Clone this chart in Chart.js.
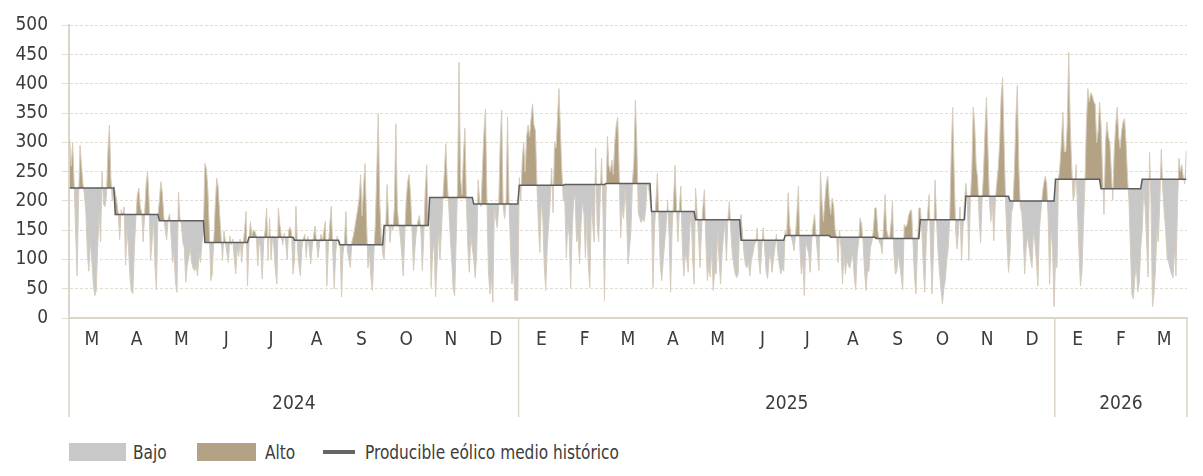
<!DOCTYPE html>
<html>
<head>
<meta charset="utf-8">
<script src="https://cdn.jsdelivr.net/npm/chart.js@4.4.1/dist/chart.umd.min.js"></script>
<style>
  body { margin: 0; background: #fff; }
  .page { position: relative; width: 1203px; height: 476px; }
  .chart-wrapper { position: absolute; left: 0; top: 0; width: 1203px; height: 420px; }
  .legend { position: absolute; left: 0; top: 441px; height: 24px; width: 800px;
            font-family: 'DejaVu Sans Condensed', 'Liberation Sans Narrow', sans-serif;
            font-size: 19px; color: #3c3c3c; }
  .legend span { position: absolute; top: 0; line-height: 22px; }
  .legend .txt { transform: scaleX(0.9); transform-origin: left center; white-space: nowrap; }
  .legend .box { height: 18px; top: 2px; }
  .legend .line { height: 4px; top: 9px; background: #666; }
</style>
</head>
<body>
<div class="page">
  <div class="chart-wrapper"><canvas id="myChart"></canvas></div>
  <div class="legend">
    <span class="box" style="left:69px;width:57px;background:#c8c8c9"></span>
    <span class="txt" style="left:133px">Bajo</span>
    <span class="box" style="left:197px;width:59px;background:#b3a384"></span>
    <span class="txt" style="left:265px">Alto</span>
    <span class="line" style="left:323px;width:32px"></span>
    <span class="txt" style="left:365px">Producible eólico medio histórico</span>
  </div>
</div>
<script>
// meses (mar 2024 - mar 2026)
const monthLetters = ['M','A','M','J','J','A','S','O','N','D',
                      'E','F','M','A','M','J','J','A','S','O','N','D',
                      'E','F','M'];
const monthDays = [31,30,31,30,31,31,30,31,30,31,
                   31,28,31,30,31,30,31,31,30,31,30,31,
                   31,28,31];
const yearLabels = ['2024', '2025', '2026'];

// producible eolico medio historico (mensual)
const histMean = [222,177,166,129,138,133,125,158,206,195,
                  227,228,230,182,168,133,141,138,136,168,208,200,
                  237,221,237];

// producible eolico diario
const prod2024 = [
  305,260,300,230,150,72,200,295,260,230,210,180,110,80,130,100,60,38,45,120,180,130,250,195,190,210,285,330,240,200,225, // mar
  215,200,180,134,185,175,190,90,150,120,70,45,42,120,170,210,222,190,180,130,180,230,250,200,98,130,170,90,48,175, // abr
  200,233,215,175,150,134,170,178,140,95,110,60,44,215,170,160,130,120,61,90,103,120,95,85,80,90,72,110,95,130,150, // may
  264,256,220,150,64,75,130,190,239,225,180,140,98,149,130,110,95,140,125,135,100,75,120,105,135,95,125,150,182,55, // jun
  130,165,140,150,148,140,89,130,120,67,130,150,188,98,171,100,140,120,80,58,188,160,140,125,145,130,100,150,155,145,75, // jul
  100,191,120,90,72,120,135,143,103,140,120,92,120,140,157,130,103,125,143,130,150,165,55,120,160,191,120,50,110,140,125, // ago
  125,36,110,130,182,115,100,86,130,140,154,170,185,205,245,175,225,264,170,86,110,70,47,110,160,250,349,200,140,110, // sep
  100,150,228,170,129,160,150,190,332,185,160,140,110,72,140,200,233,245,210,150,81,120,150,165,175,150,81,140,220,262,160, // oct
  180,52,110,131,36,90,150,100,150,205,250,298,230,190,140,100,50,38,130,230,437,240,210,280,324,200,120,78,140,120, // nov
  100,69,110,236,200,190,260,320,357,200,80,41,70,27,190,170,154,190,300,355,190,170,200,343,200,120,58,90,30,30,30 // dic
];
const prod2025 = [
  240,200,270,300,250,310,330,310,340,366,330,320,230,160,112,200,170,90,47,120,160,200,256,180,301,290,340,392,320,250,200, // ene
  200,103,160,140,52,150,200,210,130,140,92,160,200,180,103,170,90,52,190,160,130,290,160,130,200,273,180,30, // feb
  200,310,260,250,270,245,300,330,343,250,137,190,170,220,180,92,120,150,230,267,372,300,180,170,163,170,165,185,230,225,200, // mar
  182,52,150,200,247,170,90,64,100,130,160,202,140,44,150,200,261,190,130,190,225,120,72,110,100,78,150,182,100,58, // abr
  222,180,140,86,150,190,219,130,64,90,70,120,47,80,75,150,100,58,110,140,160,98,170,199,150,110,90,75,69,75,160, // may
  177,140,110,90,86,95,72,100,110,125,130,154,100,75,120,154,120,80,67,100,110,78,100,120,143,110,90,75,85,80, // jun
  150,140,214,160,140,130,115,140,180,225,120,75,100,38,130,120,110,78,130,160,177,140,110,81,250,200,165,200,230,242,200, // jul
  177,205,191,150,137,95,150,120,58,110,75,100,90,85,100,110,70,48,110,130,171,160,130,80,47,80,80,120,130,150,188, // ago
  188,150,130,125,110,160,211,150,140,135,160,199,110,75,80,110,90,70,48,160,155,160,175,182,185,130,70,41,120,188, // sep
  188,150,90,44,130,180,211,110,41,120,236,170,115,80,50,24,50,65,100,120,170,280,360,250,150,118,150,190,98,150,200, // oct
  230,200,98,200,250,360,330,260,240,170,129,200,250,320,377,290,200,165,200,132,200,230,256,300,380,411,300,200,130,78, // nov
  110,180,190,250,340,397,260,190,180,143,75,120,140,120,100,86,150,130,98,55,150,180,210,230,242,230,170,58,150,120,19 // dic
];
const prod2026 = [
  100,86,236,260,300,352,284,284,330,454,330,260,200,211,262,180,110,55,80,160,230,330,392,369,385,380,370,365,300,320,369, // ene
  329,250,177,300,335,310,300,250,202,290,330,360,310,290,320,335,341,300,240,200,120,40,33,70,90,45,60,120, // feb
  150,220,190,130,70,283,200,19,40,80,150,130,200,288,220,180,150,103,95,85,75,69,120,72,190,273,250,262,240,229,285 // mar
];

const daily = prod2024.concat(prod2025, prod2026);

// posiciones de meses y anos sobre el eje de dias
const monthStart = [];
let acc = 0;
monthDays.forEach(n => { monthStart.push(acc); acc += n; });
const totalDays = acc;
const monthCenters = monthStart.map((s, i) => s + monthDays[i] / 2);
const yearBounds = [0, 306, 671, totalDays];
const yearCenters = [153, 306 + 182.5, 671 + 45];

const dailyPoints = daily.map((v, i) => ({x: i + 0.5, y: v}));
const meanPoints = [];
monthDays.forEach((n, m) => {
    for (let k = 0; k < n; k++) meanPoints.push({x: monthStart[m] + k + 0.5, y: histMean[m]});
});

const tickFont = {family: "'DejaVu Sans Condensed', 'Liberation Sans Narrow', sans-serif", size: 19};
const axisColor = '#dcd5c9';

const yearDividers = {
    id: 'yearDividers',
    afterDraw(chart) {
        const {ctx, chartArea, scales} = chart;
        ctx.save();
        ctx.strokeStyle = axisColor;
        ctx.lineWidth = 1.5;
        yearBounds.forEach(v => {
            const px = scales.x.getPixelForValue(v);
            ctx.beginPath();
            ctx.moveTo(px, chartArea.bottom);
            ctx.lineTo(px, 417);
            ctx.stroke();
        });
        ctx.restore();
    }
};

const data = {
    datasets: [{
        label: 'Producible diario',
        data: dailyPoints,
        borderColor: '#d6ccbc',
        borderWidth: 1,
        pointRadius: 0,
        tension: 0,
        order: 1,
        fill: {target: 1, above: '#b3a384', below: '#c8c8c9'}
    }, {
        label: 'Producible eólico medio histórico',
        data: meanPoints,
        borderColor: '#5e5e5e',
        borderWidth: 1.5,
        pointRadius: 0,
        tension: 0,
        order: 0,
        fill: false
    }]
};

const config = {
    type: 'line',
    data: data,
    options: {
        responsive: true,
        maintainAspectRatio: false,
        animation: false,
        layout: {padding: {top: 21, right: 16, bottom: 2, left: 0}},
        plugins: {legend: {display: false}, tooltip: {enabled: false}},
        scales: {
            x: {
                type: 'linear', min: 0, max: totalDays, position: 'bottom',
                afterBuildTicks: (scale) => { scale.ticks = monthCenters.map(v => ({value: v})); },
                afterFit: (scale) => { scale.height = 38; },
                ticks: {autoSkip: false, maxRotation: 0, padding: 11, color: '#3c3c3c', font: tickFont,
                        callback: (v, i) => monthLetters[i]},
                grid: {display: false, drawTicks: false},
                border: {display: true, color: axisColor, width: 2}
            },
            xYear: {
                type: 'linear', min: 0, max: totalDays, position: 'bottom',
                afterBuildTicks: (scale) => { scale.ticks = yearCenters.map(v => ({value: v})); },
                afterFit: (scale) => { scale.height = 62; },
                ticks: {autoSkip: false, maxRotation: 0, padding: 37, color: '#3c3c3c', font: tickFont,
                        callback: (v, i) => yearLabels[i]},
                grid: {display: false, drawTicks: false},
                border: {display: false}
            },
            y: {
                min: 0, max: 500,
                afterFit: (scale) => { scale.width = 69; },
                ticks: {stepSize: 50, padding: 14, color: '#3c3c3c', font: tickFont},
                grid: {color: '#e2dbd0', lineWidth: 1, tickLength: 7},
                border: {display: true, color: axisColor, width: 2, dash: [3, 2]}
            }
        }
    },
    plugins: [yearDividers]
};

const myChart = new Chart(document.getElementById('myChart'), config);
</script>
</body>
</html>
